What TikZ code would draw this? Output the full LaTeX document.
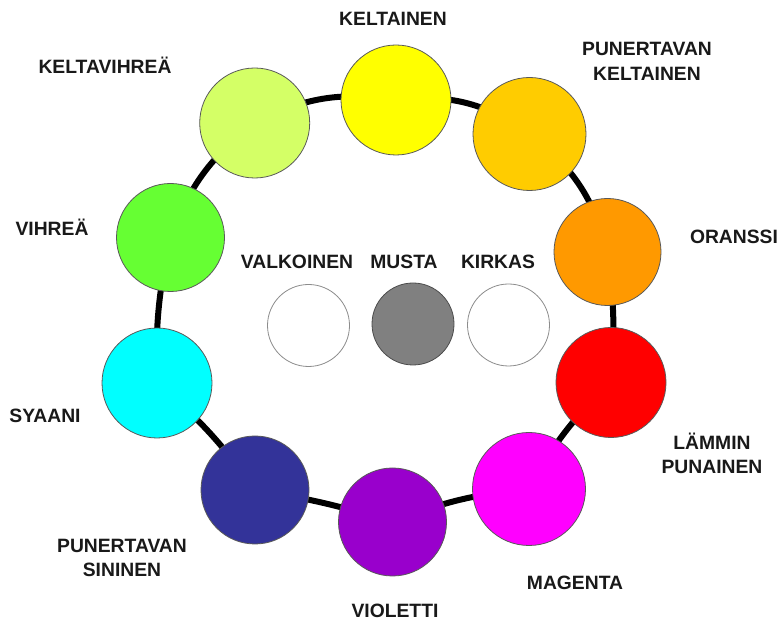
\documentclass[tikz,border=0pt]{standalone}
\usepackage{fontspec}
\setmainfont{Liberation Sans}
\usetikzlibrary{backgrounds}

\definecolor{cKel}{HTML}{FFFF00}
\definecolor{cPke}{HTML}{FFCC00}
\definecolor{cOra}{HTML}{FF9900}
\definecolor{cLpu}{HTML}{FF0000}
\definecolor{cMag}{HTML}{FF00FF}
\definecolor{cVio}{HTML}{9900CC}
\definecolor{cPsi}{HTML}{333399}
\definecolor{cSya}{HTML}{00FFFF}
\definecolor{cVih}{HTML}{66FF33}
\definecolor{cKvi}{HTML}{D4FF66}
\definecolor{cMus}{HTML}{808080}

\begin{document}
\begin{tikzpicture}[x=1pt, y=1pt,
  font=\fontsize{19.3}{24.5}\selectfont\bfseries,
  dot/.style={circle, draw=black!65, line width=0.8pt, minimum size=110pt, inner sep=0pt},
  small/.style={dot, minimum size=82pt, draw=black!45},
  lbl/.style={align=center, text=black!90, inner sep=0pt},
  ring/.style={line width=6pt, black}
]
  \useasboundingbox (0,0) rectangle (784,623);

  % colour circles on the ring
  \node[dot, fill=cKel] (kel) at (396,523) {};
  \node[dot, fill=cPke, minimum size=113pt] (pke) at (529.5,489) {};
  \node[dot, fill=cOra, minimum size=107pt] (ora) at (607.5,371) {};
  \node[dot, fill=cLpu] (lpu) at (611,240.5) {};
  \node[dot, fill=cMag, minimum size=113pt] (mag) at (529,134) {};
  \node[dot, fill=cVio, minimum size=108pt] (vio) at (392.5,101) {};
  \node[dot, fill=cPsi, minimum size=108pt] (psi) at (255,133) {};
  \node[dot, fill=cSya] (sya) at (157,240) {};
  \node[dot, fill=cVih, minimum size=108pt] (vih) at (170.5,385.5) {};
  \node[dot, fill=cKvi] (kvi) at (254.7,500) {};

  % the three in the middle
  \node[small, fill=white] (val) at (308.5,297.5) {};
  \node[small, fill=cMus, draw=black!70] (mus) at (413,299) {};
  \node[small, fill=white] (kir) at (508.5,298) {};

  % ring behind the circles
  \begin{scope}[on background layer]
    \foreach \a/\b/\bb in {kel/pke/21, pke/ora/19, ora/lpu/6, lpu/mag/-9, mag/vio/-8,
                           vio/psi/-4, psi/sya/-7, sya/vih/7, vih/kvi/16, kvi/kel/18}
      \draw[ring] (\a.center) to[bend left=\bb] (\b.center);
  \end{scope}

  % names
  \node[lbl] (lkel) at (393,604) {KELTAINEN};
  \node[lbl] (lpke) at (647,561.5) {PUNERTAVAN\\KELTAINEN};
  \node[lbl] (lora) at (734,386) {ORANSSI};
  \node[lbl] (llpu) at (712,169.5) {LÄMMIN\\PUNAINEN};
  \node[lbl] (lmag) at (575,40) {MAGENTA};
  \node[lbl] (lvio) at (395,12) {VIOLETTI};
  \node[lbl] (lpsi) at (122,65) {PUNERTAVAN\\SININEN};
  \node[lbl] (lsya) at (45,207) {SYAANI};
  \node[lbl] (lvih) at (52,396) {VIHREÄ};
  \node[lbl] (lkvi) at (105,558) {KELTAVIHREÄ};
  \node[lbl] (lval) at (297,361) {VALKOINEN};
  \node[lbl] (lmus) at (404,361) {MUSTA};
  \node[lbl] (lkir) at (498,361) {KIRKAS};
\end{tikzpicture}
\end{document}
